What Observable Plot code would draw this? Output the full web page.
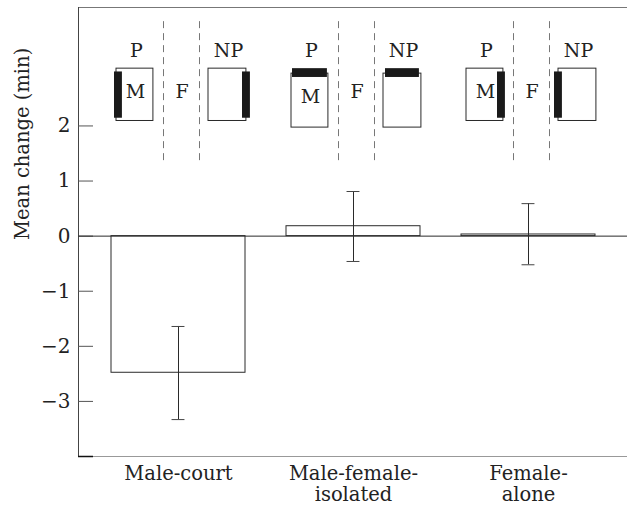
<!DOCTYPE html>
<html><head><meta charset="utf-8">
<script src="https://cdn.jsdelivr.net/npm/d3@7"></script>
<script src="https://cdn.jsdelivr.net/npm/@observablehq/plot@0.6"></script>
<style>
html,body{margin:0;padding:0;background:#fff}
svg{display:block}
svg text{font-family:"DejaVu Serif",serif !important;}
</style>
</head><body><div id="chart"></div>
<script>
// ---- data ----
const conditions = ["Male-court", "Male-female-isolated", "Female-alone"];
const conditionLabels = ["Male-court", "Male-female-\nisolated", "Female-\nalone"];
const meanChange = [-2.48, 0.18, 0.03];
const errLow = [-3.33, -0.46, -0.52];
const errHigh = [-1.64, 0.81, 0.59];
const yTickValues = [-3, -2, -1, 0, 1, 2];
const stimulusSideP = ["left", "top", "right"];
const stimulusSideNP = ["right", "top", "left"];

const rows = conditions.map((c, i) => ({cond: c, mean: meanChange[i], lo: errLow[i], hi: errHigh[i]}));
const labelOf = Object.fromEntries(conditions.map((c, i) => [c, conditionLabels[i]]));

const W = 627, H = 507, ML = 78, MR = 0, MT = 7, MB = 51;
const xOpts = {domain: conditions, paddingInner: 0.236, paddingOuter: 0.182};
const xs = Plot.scale({x: {type: "band", ...xOpts, range: [ML, W - MR]}});
const bw = xs.bandwidth;
const innerW = W - ML - MR;
const FONT = "DejaVu Serif";
const ink = "#2a2a2a";
const fmt = d => (d < 0 ? "\u2212" : "") + Math.abs(d);

// schematic layout (pixel offsets within each band)
const tankBox = {P: [5, 42], NP: [97, 135]};
const stimBarX = {
  P: {left: [3, 11], right: [36, 44], top: [6, 41]},
  NP: {left: [93, 101], right: [131, 139], top: [99, 133]}
};

const schematic = [];
conditions.forEach((c, i) => {
  for (const t of ["P", "NP"]) {
    const side = t === "P" ? stimulusSideP[i] : stimulusSideNP[i];
    const [a, b] = tankBox[t];
    const yb = side === "top" ? [1.97, 2.95] : [2.09, 3.04];
    schematic.push(Plot.barY([c], {x: d => d, y1: yb[0], y2: yb[1], insetLeft: a, insetRight: bw - b, fill: "white", stroke: ink, strokeWidth: 1}));
    const [sa, sb] = stimBarX[t][side];
    const ysb = side === "top" ? [2.88, 3.04] : [2.14, 2.98];
    schematic.push(Plot.barY([c], {x: d => d, y1: ysb[0], y2: ysb[1], insetLeft: sa, insetRight: bw - sb, fill: "#1a1a1a"}));
  }
});

const chart = Plot.plot({
  width: W, height: H,
  marginLeft: ML, marginRight: MR, marginTop: MT, marginBottom: MB,
  style: {fontFamily: FONT, fontSize: "20px", color: "#222", background: "white"},
  x: xOpts,
  y: {domain: [-4, 4.15]},
  marks: [
    Plot.frame({anchor: "top", stroke: "#777"}),
    Plot.ruleY([-4], {stroke: "#999"}),
    Plot.frame({anchor: "left", stroke: "#444"}),
    Plot.ruleY(yTickValues, {y: d => d, insetRight: innerW - 15, stroke: "#555"}),
    Plot.ruleY([-4], {y: d => d, insetRight: innerW - 15, stroke: "#111", strokeWidth: 1.5}),
    Plot.axisY(yTickValues, {tickSize: 0, tickPadding: 8, label: null, fontSize: 20, tickFormat: fmt, fontFamily: FONT}),
    Plot.axisX({tickSize: 0, tickPadding: 9, label: null, fontSize: 19.5, lineHeight: 1.05, tickFormat: d => labelOf[d], fontFamily: FONT}),
    Plot.text(["Mean change (min)"], {frameAnchor: "left", text: d => d, rotate: -90, dx: -56, dy: 8, fontSize: 19.5, fontFamily: FONT}),
    Plot.barY(rows, {x: "cond", y: "mean", fill: "white", stroke: ink, strokeWidth: 1}),
    Plot.ruleY([0], {stroke: ink}),
    Plot.ruleX(rows, {x: "cond", y1: "lo", y2: "hi", stroke: ink}),
    Plot.tickY(rows, {x: "cond", y: "hi", insetLeft: (bw - 13) / 2, insetRight: (bw - 13) / 2, stroke: "#444"}),
    Plot.tickY(rows, {x: "cond", y: "lo", insetLeft: (bw - 13) / 2, insetRight: (bw - 13) / 2, stroke: "#444"}),
    // dashed divider lines
    Plot.ruleX(conditions, {x: d => d, dx: -15, y1: 1.37, y2: 3.97, stroke: "#777", strokeDasharray: "7,5"}),
    Plot.ruleX(conditions, {x: d => d, dx: 21, y1: 1.37, y2: 3.97, stroke: "#777", strokeDasharray: "7,5"}),
    ...schematic,
    Plot.text(conditions, {x: d => d, y: 3.37, text: () => "P", dx: -42, fontSize: 19, fill: "#222", fontFamily: FONT}),
    Plot.text(conditions, {x: d => d, y: 3.37, text: () => "NP", dx: 50, fontSize: 19, fill: "#222", fontFamily: FONT}),
    Plot.text(conditions, {x: d => d, y: (d, i) => stimulusSideP[i] === "top" ? 2.52 : 2.61, text: () => "M", dx: -43, fontSize: 19, fill: "#222", fontFamily: FONT}),
    Plot.text(conditions, {x: d => d, y: 2.61, text: () => "F", dx: 3.5, fontSize: 19, fill: "#222", fontFamily: FONT})
  ]
});
document.getElementById("chart").appendChild(chart);
</script>
</body></html>
